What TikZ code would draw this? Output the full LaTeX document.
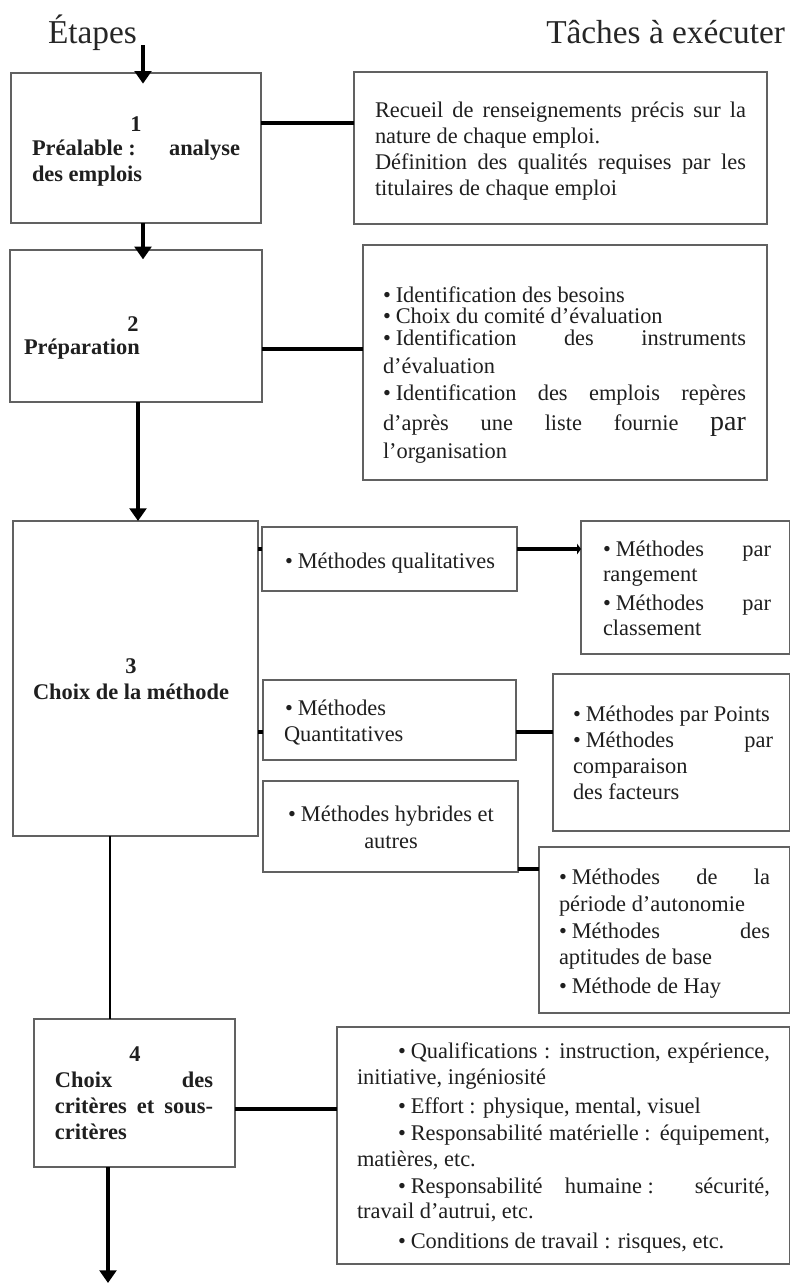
\documentclass[tikz,border=0pt]{standalone}
\usepackage{fontspec}
\setmainfont{Liberation Serif}
\usetikzlibrary{arrows.meta}

% one unit = one pixel of the page
\newlength\px \setlength\px{0.75pt}
% a line stretched to a given width (in px)
\newcommand\jl[2]{\makebox[#1\px][s]{#2}}
% bullet with a fixed gap after it
\newcommand\bul{•\hspace{0.22em}}
% frame from its two corners: name, x1, y1, x2, y2
\newcommand\boxat[5]{\node[boxst, minimum width={(#4-#2)*0.75pt}, minimum height={(#5-#3)*0.75pt}] (#1) at ({(#2+#4)/2},{(#3+#5)/2}) {};}

\tikzset{
  boxst/.style={draw=black!62, line width=0.85pt, inner sep=0pt, outer sep=0pt},
  linetxt/.style={inner sep=0pt, outer sep=0pt, text=black!88, font=\fontsize{16.8}{18}\selectfont},
  boldtxt/.style={linetxt, font=\fontsize{16.8}{18}\selectfont\bfseries},
  headtxt/.style={inner sep=0pt, outer sep=0pt, text=black!85, font=\fontsize{25}{28}\selectfont},
  flowarrow/.style={line width=2.9pt, -{Triangle[length=9.5pt,width=12.5pt]}},
  linkline/.style={line width=2.5pt},
  stemline/.style={line width=2.2pt},
}

\begin{document}
\begin{tikzpicture}[x=0.75pt,y=-0.75pt]
\useasboundingbox (0,0) rectangle (791,1283);
\fill[white] (0,0) rectangle (791,1283);

% column titles
\node[headtxt, anchor=base west] (hE) at (48,43) {Étapes};
\node[headtxt, anchor=base east] (hT) at (785,43) {Tâches à exécuter};

% frames
\boxat{b1}{11}{73}{261}{223}
\boxat{r1}{354}{72}{767}{224}
\boxat{b2}{10}{250}{262}{402}
\boxat{r2}{363}{245}{767}{480}
\boxat{b3}{13}{521}{258}{836}
\boxat{q1}{262}{527}{517}{591}
\boxat{qr1}{581}{521}{789.5}{654}
\boxat{q2}{263}{680}{516}{760}
\boxat{qr2}{553}{674}{789.5}{831}
\boxat{q3}{263}{781}{518}{872}
\boxat{qr3}{539}{847}{789.5}{1013}
\boxat{b4}{34}{1019}{235}{1167}
\boxat{r4}{337}{1027}{789.5}{1264}

% step 1
\node[boldtxt, anchor=base] (b1n) at (136,131) {1};
\node[boldtxt, anchor=base west] (b1a) at (32,155) {\jl{208}{Préalable\hspace{0.25em}: analyse}};
\node[boldtxt, anchor=base west] (b1b) at (32,181) {des emplois};

% step 2
\node[boldtxt, anchor=base] (b2n) at (133,331) {2};
\node[boldtxt, anchor=base west] (b2a) at (24,354) {Préparation};

% step 3
\node[boldtxt, anchor=base] (b3n) at (131,673) {3};
\node[boldtxt, anchor=base] (b3a) at (131,699) {Choix de la méthode};

% step 4
\node[boldtxt, anchor=base] (b4n) at (135,1061) {4};
\node[boldtxt, anchor=base west] (b4a) at (55,1087) {\jl{158}{Choix des}};
\node[boldtxt, anchor=base west] (b4b) at (55,1113) {\jl{158}{critères et sous-}};
\node[boldtxt, anchor=base west] (b4c) at (55,1139) {critères};

% tasks of step 1
\node[linetxt, anchor=base west] (r1a) at (375,117) {\jl{371}{Recueil de renseignements précis sur la}};
\node[linetxt, anchor=base west] (r1b) at (375,143) {nature de chaque emploi.};
\node[linetxt, anchor=base west] (r1c) at (375,169) {\jl{371}{Définition des qualités requises par les}};
\node[linetxt, anchor=base west] (r1d) at (375,195) {titulaires de chaque emploi};

% tasks of step 2
\node[linetxt, anchor=base west] (r2a) at (383,302) {\bul Identification des besoins};
\node[linetxt, anchor=base west] (r2b) at (383,323) {\bul Choix du comité d’évaluation};
\node[linetxt, anchor=base west] (r2c) at (383,345) {\jl{363}{\bul Identification des instruments}};
\node[linetxt, anchor=base west] (r2d) at (383,373) {d’évaluation};
\node[linetxt, anchor=base west] (r2e) at (383,400) {\jl{363}{\bul Identification des emplois repères}};
\node[linetxt, anchor=base west] (r2f) at (383,430) {\jl{363}{d’après une liste fournie {\fontsize{21}{21}\selectfont par}}};
\node[linetxt, anchor=base west] (r2g) at (383,458) {l’organisation};

% families of methods
\node[linetxt, anchor=base] (q1a) at (390,568) {\bul Méthodes qualitatives};
\node[linetxt, anchor=base west] (q2a) at (285,715) {\bul Méthodes};
\node[linetxt, anchor=base west] (q2b) at (284,741) {Quantitatives};
\node[linetxt, anchor=base] (q3a) at (391,821) {\bul Méthodes hybrides et};
\node[linetxt, anchor=base] (q3b) at (391,848) {autres};

\node[linetxt, anchor=base west] (qr1a) at (603,556) {\jl{168}{\bul Méthodes par}};
\node[linetxt, anchor=base west] (qr1b) at (603,581) {rangement};
\node[linetxt, anchor=base west] (qr1c) at (603,610) {\jl{168}{\bul Méthodes par}};
\node[linetxt, anchor=base west] (qr1d) at (603,635) {classement};

\node[linetxt, anchor=base west] (qr2a) at (573,721) {\bul Méthodes par Points};
\node[linetxt, anchor=base west] (qr2b) at (573,747) {\jl{200}{\bul Méthodes par}};
\node[linetxt, anchor=base west] (qr2c) at (573,773) {comparaison};
\node[linetxt, anchor=base west] (qr2d) at (573,799) {des facteurs};

\node[linetxt, anchor=base west] (qr3a) at (559,884) {\jl{211}{\bul Méthodes de la}};
\node[linetxt, anchor=base west] (qr3b) at (559,911) {période d’autonomie};
\node[linetxt, anchor=base west] (qr3c) at (559,938) {\jl{211}{\bul Méthodes des}};
\node[linetxt, anchor=base west] (qr3d) at (559,964) {aptitudes de base};
\node[linetxt, anchor=base west] (qr3e) at (559,993) {\bul Méthode de Hay};

% tasks of step 4
\node[linetxt, anchor=base west] (r4a) at (398,1058) {\jl{372}{\bul Qualifications : instruction, expérience,}};
\node[linetxt, anchor=base west] (r4b) at (357,1084) {initiative, ingéniosité};
\node[linetxt, anchor=base west] (r4c) at (398,1113) {\bul Effort : physique, mental, visuel};
\node[linetxt, anchor=base west] (r4d) at (398,1140) {\jl{372}{\bul Responsabilité matérielle\hspace{0.25em}: équipement,}};
\node[linetxt, anchor=base west] (r4e) at (357,1166) {matières, etc.};
\node[linetxt, anchor=base west] (r4f) at (398,1193) {\jl{372}{\bul Responsabilité humaine\hspace{0.25em}: sécurité,}};
\node[linetxt, anchor=base west] (r4g) at (357,1218) {travail d’autrui, etc.};
\node[linetxt, anchor=base west] (r4h) at (398,1248) {\bul Conditions de travail : risques, etc.};

% vertical flow between the steps
\coordinate (s0) at (143,45);
\coordinate (v23) at (138,0);
\coordinate (v34) at (110,0);
\coordinate (fin) at (108,1283);
\draw[flowarrow, shorten >=-8pt] (s0) -- (s0 |- b1.north);
\draw[flowarrow, shorten >=-7pt] (b1.south -| s0) -- (b2.north -| s0);
\draw[flowarrow] (b2.south -| v23) -- (b3.north -| v23);
\draw[stemline] (b3.south -| v34) -- (b4.north -| v34);
\draw[flowarrow] (b4.south -| fin) -- (fin);

% links from steps to their tasks
\coordinate (h1) at (0,123);
\coordinate (h2) at (0,349);
\coordinate (h3) at (0,549);
\coordinate (h4) at (0,732);
\coordinate (h5) at (0,869);
\coordinate (h6) at (0,1109);
\draw[linkline] (h1 -| b1.east) -- (h1 -| r1.west);
\draw[linkline] (h2 -| b2.east) -- (h2 -| r2.west);
\draw[linkline] (h3 -| b3.east) -- (h3 -| q1.west);
\draw[linkline, -{Triangle[length=3pt,width=8pt]}] (h3 -| q1.east) -- (h3 -| qr1.west);
\draw[linkline] (h4 -| b3.east) -- (h4 -| q2.west);
\draw[linkline] (h4 -| q2.east) -- (h4 -| qr2.west);
\draw[linkline] (h5 -| q3.east) -- (h5 -| qr3.west);
\draw[linkline] (h6 -| b4.east) -- (h6 -| r4.west);
\end{tikzpicture}
\end{document}
